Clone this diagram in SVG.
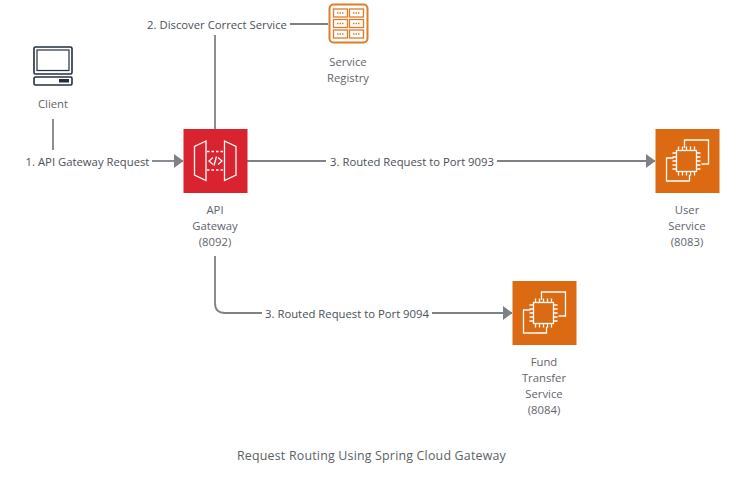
<svg xmlns="http://www.w3.org/2000/svg" width="741" height="483" viewBox="0 0 741 483">
<style>
text{font-family:"Open Sans","Noto Sans",sans-serif;font-size:11.3px;fill:#4a5058;text-anchor:middle}
.n text{fill:#5f656d}
.c{fill:none;stroke:#7d8287;stroke-width:1.8}
.w{fill:none;stroke:#fff;stroke-width:1.3}
.o{fill:none;stroke:#e07b28;stroke-width:1.3}
</style>
<defs>
<marker id="a" markerUnits="userSpaceOnUse" markerWidth="10" markerHeight="14" refX="9" refY="7" orient="auto"><path d="M0 0L9.500 7L0 14Z" fill="#7d8287"/></marker>
<g id="chip">
<rect width="64" height="64" fill="#dc6a12"/>
<path class="w" d="M29 19V11H53V35H46M18 29H11V52H34V46"/>
<rect class="w" x="21" y="21.500" width="20" height="21"/>
<path class="w" d="M23 17.500V21.500M27 17.500V21.500M31 17.500V21.500M35 17.500V21.500M39 17.500V21.500M23 42.500V46.500M27 42.500V46.500M31 42.500V46.500M35 42.500V46.500M39 42.500V46.500M17 24H21M17 28H21M17 32H21M17 36H21M17 40H21M41 24H45M41 28H45M41 32H45M41 36H45M41 40H45"/>
</g>
</defs>
<rect width="741" height="483" fill="#fff"/>
<g id="connectors">
<path class="c" d="M53 119V150"/>
<path class="c" d="M152 161H183" marker-end="url(#a)"/>
<path class="c" d="M215 129V35"/>
<path class="c" d="M290 24H328"/>
<path class="c" d="M247 161H326"/>
<path class="c" d="M497 161H655" marker-end="url(#a)"/>
<path class="c" d="M215 256V303Q215 313 225 313H262"/>
<path class="c" d="M432 313H512" marker-end="url(#a)"/>
<text x="87.500" y="165.500">1. API Gateway Request</text>
<text x="217" y="28.500">2. Discover Correct Service</text>
<text x="412" y="166">3. Routed Request to Port 9093</text>
<text x="347" y="318">3. Routed Request to Port 9094</text>
</g>
<g id="client" class="n">
<g fill="none" stroke="#232f3e" stroke-width="1.6">
<rect x="34" y="47" width="38" height="27" rx="1.500"/>
<rect x="37" y="50" width="32" height="20.500" stroke-width="1.200"/>
<rect x="34" y="77" width="38" height="8" rx="1.500"/>
</g>
<rect x="59" y="79" width="10" height="3.500" fill="#232f3e"/>
<text x="53" y="108">Client</text>
</g>
<g id="service-registry" class="n">
<rect x="329.500" y="4.500" width="38" height="38" rx="4" fill="none" stroke="#e07b28" stroke-width="2"/>
<g class="o">
<rect x="333.500" y="9" width="14" height="8"/><rect x="349.500" y="9" width="14" height="8"/>
<rect x="333.500" y="19.500" width="14" height="8"/><rect x="349.500" y="19.500" width="14" height="8"/>
<rect x="333.500" y="30" width="14" height="8"/><rect x="349.500" y="30" width="14" height="8"/>
<path stroke-dasharray="1.500 1" d="M337 13H344M353 13H360M337 23.500H344M353 23.500H360M337 34H344M353 34H360"/>
</g>
<text x="348" y="66">Service</text>
<text x="348" y="82">Registry</text>
</g>
<g id="api-gateway" class="n">
<rect x="183.500" y="129" width="64" height="64" fill="#d9232e"/>
<path class="w" d="M206 141L194.500 146.500V175L206 180.500ZM224.500 141L236 146.500V175L224.500 180.500Z"/>
<path class="w" stroke-dasharray="2.500 2" d="M207 151.500H224M207 170H224"/>
<path class="w" d="M213 157.500L209 161L213 164.500M218 157.500L222 161L218 164.500M216.500 156.500L214 165.500"/>
<text x="215" y="214">API</text>
<text x="215" y="230">Gateway</text>
<text x="215" y="246">(8092)</text>
</g>
<g id="user-service" class="n">
<use href="#chip" x="655.500" y="129"/>
<text x="687" y="214">User</text>
<text x="687" y="230">Service</text>
<text x="687" y="246">(8083)</text>
</g>
<g id="fund-transfer-service" class="n">
<use href="#chip" x="512.500" y="281"/>
<text x="544" y="366">Fund</text>
<text x="544" y="382">Transfer</text>
<text x="544" y="398">Service</text>
<text x="544" y="414">(8084)</text>
</g>
<text x="371.500" y="460" style="font-size:12.400px;letter-spacing:.2px;fill:#5a5f66">Request Routing Using Spring Cloud Gateway</text>
</svg>
